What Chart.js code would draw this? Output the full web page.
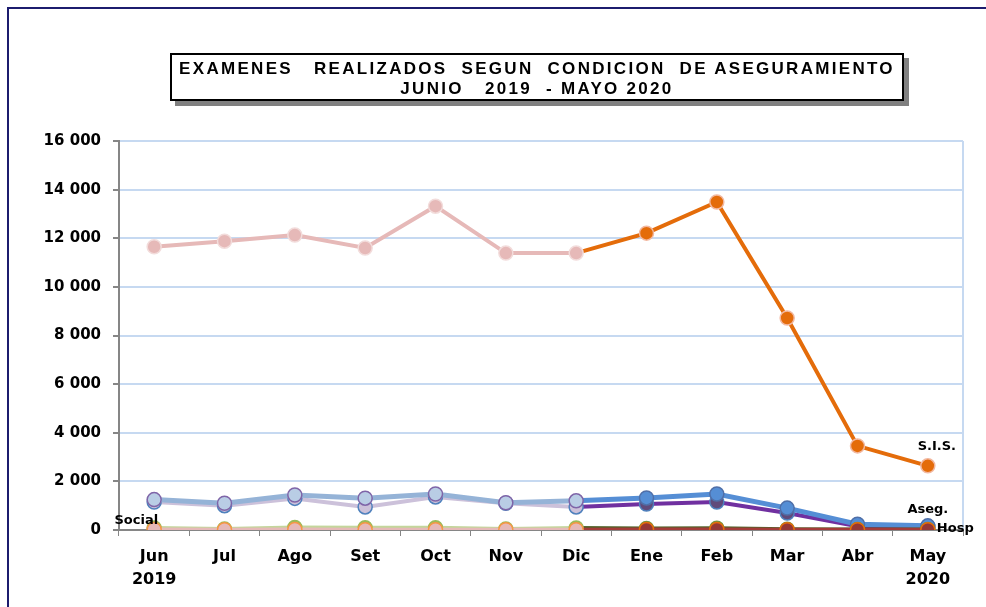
<!DOCTYPE html>
<html>
<head>
<meta charset="utf-8">
<script src="https://cdn.jsdelivr.net/npm/chart.js@4"></script>
<style>
  body { margin: 0; background: #fff; }
  #wrap { position: relative; width: 986px; height: 607px; overflow: hidden; }
  #frame { position: absolute; left: 7px; top: 7px; width: 990px; height: 620px; border: 2px solid #1c1c6e; }
  #title {
    position: absolute; left: 170px; top: 53px; width: 730px; height: 44px;
    border: 2px solid #000; background: #fff; box-shadow: 5px 5px 0 #808080;
    font-family: 'Liberation Sans', Arial, sans-serif; font-weight: bold; font-size: 17px;
    text-align: center; line-height: 20px; white-space: pre; letter-spacing: 2.3px; color: #000;
  }
  #title div:first-child { padding-top: 4px; }
  canvas { position: absolute; left: 0; top: 0; }
</style>
</head>
<body>
<div id="wrap">
  <div id="frame"></div>
  <canvas id="chart" width="986" height="607"></canvas>
  <div id="title"><div>EXAMENES   REALIZADOS  SEGUN  CONDICION  DE ASEGURAMIENTO</div><div>JUNIO   2019  - MAYO 2020</div></div>
</div>
<script>
const months = [['Jun', '2019'], 'Jul', 'Ago', 'Set', 'Oct', 'Nov', 'Dic', 'Ene', 'Feb', 'Mar', 'Abr', ['May', '2020']];
const yTicks = [0, 2000, 4000, 6000, 8000, 10000, 12000, 14000, 16000];

const sis    = [11650, 11880, 12130, 11600, 13320, 11390, 11390, 12210, 13490, 8720, 3460, 2640];
const aseg   = [1250, 1100, 1440, 1310, 1480, 1120, 1200, 1320, 1480, 900, 240, 170];
const otros  = [1150, 1000, 1300, 950, 1360, 1100, 950, 1070, 1150, 700, 150, 140];
const social = [80, 40, 100, 90, 90, 40, 80, 60, 70, 30, 20, 20];
const hosp   = [20, 10, 20, 10, 10, 10, 10, 20, 20, 10, 10, 10];

// first months pale, from Dic on full colour
const CUT = 6;

function series(label, data, c, opts) {
  return Object.assign({
    label: label,
    data: data,
    borderWidth: 4,
    pointRadius: 7,
    pointHoverRadius: 7,
    pointBorderWidth: 1.5,
    borderColor: c.pale,
    segment: { borderColor: ctx => ctx.p0DataIndex >= CUT ? c.line : c.pale },
    pointBackgroundColor: ctx => ctx.dataIndex > CUT ? c.dot : c.paleDot,
    pointBorderColor: ctx => ctx.dataIndex > CUT ? c.dotEdge : c.paleEdge,
    tension: 0
  }, opts || {});
}

const datasets = [
  series('Hosp', hosp, { pale: '#e6b9b8', line: '#a33b38', paleDot: '#e6b9b8', paleEdge: '#f79646', dot: '#953735', dotEdge: '#e46c0a' }),
  series('Social', social, { pale: '#c3d69b', line: '#4f6228', paleDot: '#9bbb59', paleEdge: '#9bbb59', dot: '#77933c', dotEdge: '#77933c' }),
  series('S.I.S.', sis, { pale: '#e6b9b8', line: '#e46c0a', paleDot: '#e6b9b8', paleEdge: '#f2dcdb', dot: '#e46c0a', dotEdge: '#f2b8a0' }),
  series('Aseg.', aseg, { pale: '#95b3d7', line: '#558ed5', paleDot: '#b9cde5', paleEdge: '#7f65a8', dot: '#558ed5', dotEdge: '#4f6fa8' }, { borderWidth: 5 }),
  series('Otros', otros, { pale: '#ccc1da', line: '#7030a0', paleDot: '#ccc1da', paleEdge: '#4f81bd', dot: '#604a7b', dotEdge: '#4f81bd' })
];

// series names written next to a point: [dataset label, point index, dx, dy, align]
const seriesTags = [
  ['S.I.S.', 11, 9, -19, 'center'],
  ['Aseg.', 11, 0, -16, 'center'],
  ['Hosp', 11, 9, -1, 'left'],
  ['Social', 0, 4, -7, 'right']
];

const tagPlugin = {
  id: 'tags',
  afterDatasetsDraw(chart) {
    const ctx = chart.ctx;
    ctx.save();
    ctx.font = 'bold 13px "DejaVu Sans"';
    ctx.fillStyle = '#000';
    ctx.textBaseline = 'middle';
    seriesTags.forEach(t => {
      const i = chart.data.datasets.findIndex(d => d.label === t[0]);
      const pt = chart.getDatasetMeta(i).data[t[1]];
      ctx.textAlign = t[4];
      ctx.fillText(t[0], pt.x + t[2], pt.y + t[3]);
    });
    ctx.restore();
  }
};

const rightEdge = {
  id: 'rightEdge',
  beforeDatasetsDraw(chart) {
    const a = chart.chartArea, ctx = chart.ctx;
    ctx.save();
    ctx.strokeStyle = '#c6d9f1';
    ctx.lineWidth = 2;
    ctx.beginPath();
    ctx.moveTo(a.right, a.top);
    ctx.lineTo(a.right, a.bottom);
    ctx.stroke();
    ctx.restore();
  }
};

Chart.defaults.font.family = '"DejaVu Sans", sans-serif';
Chart.defaults.font.weight = 'bold';
Chart.defaults.color = '#000';

new Chart(document.getElementById('chart').getContext('2d'), {
  type: 'line',
  data: { labels: months, datasets: datasets },
  options: {
    responsive: false,
    animation: false,
    layout: { padding: { top: 141, right: 23, bottom: 0, left: 0 } },
    plugins: { legend: { display: false }, tooltip: { enabled: false } },
    scales: {
      x: {
        offset: true,
        grid: { drawOnChartArea: false, tickLength: 6, tickColor: '#868686', offset: true },
        border: { color: '#868686', width: 2 },
        ticks: { font: { size: 16, weight: 'bold', lineHeight: 1.45 }, padding: 9, maxRotation: 0 },
        afterFit: s => { s.height = 77; }
      },
      y: {
        min: 0,
        max: 16000,
        afterBuildTicks: s => { s.ticks = yTicks.map(v => ({ value: v })); },
        grid: { color: '#c6d9f1', lineWidth: 2, tickLength: 6, tickColor: '#868686' },
        border: { color: '#868686', width: 2 },
        ticks: {
          font: { size: 15, weight: 'bold' },
          padding: 12,
          callback: v => String(v).replace(/\B(?=(\d{3})+(?!\d))/g, ' ')
        },
        afterFit: s => { s.width = 119; }
      }
    }
  },
  plugins: [rightEdge, tagPlugin]
});
</script>
</body>
</html>
